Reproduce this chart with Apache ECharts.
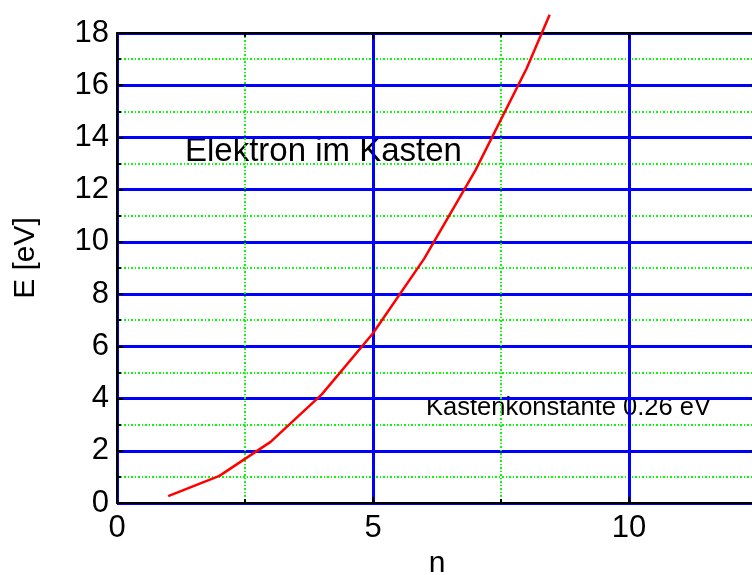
<!DOCTYPE html>
<html>
<head>
<meta charset="utf-8">
<script src="https://cdn.jsdelivr.net/npm/echarts@6/dist/echarts.min.js"></script>
<style>
  html, body { margin: 0; padding: 0; background: #fff; }
  #chart { width: 752px; height: 575px; }
</style>
</head>
<body>
<div id="chart"></div>
<script>
// values
const nValues = [1, 2, 3, 4, 5, 6, 7, 8, 8.45];
const energies = [0.26, 1.04, 2.34, 4.16, 6.5, 9.36, 12.74, 16.64, 18.7];
const xTicks = [0, 5, 10];
const yTicks = [0, 2, 4, 6, 8, 10, 12, 14, 16, 18];

const chart = echarts.init(document.getElementById('chart'));
const font = 'Liberation Sans, Arial, sans-serif';

const minorGrid = {
  show: true,
  lineStyle: { color: '#00ff00', width: 2, type: [2, 2, 1, 2] },
};
const majorGrid = {
  show: true,
  lineStyle: { color: '#0000ff', width: 3 },
};
const blackLine = { show: true, onZero: false, lineStyle: { color: '#000', width: 2 } };
const tickIn = { show: true, inside: true, length: 6, lineStyle: { color: '#000', width: 2 } };
const minorIn = { show: true, splitNumber: 2, length: 4, lineStyle: { color: '#000', width: 2 } };

chart.setOption({
  animation: false,
  grid: { left: 117, top: 33, width: 640, height: 470, containLabel: false, outerBoundsMode: 'none' },
  xAxis: [
    {
      type: 'value',
      min: 0,
      max: 12.5,
      interval: 5,
      name: 'n',
      nameLocation: 'middle',
      nameGap: 42,
      nameTextStyle: { fontSize: 30, color: '#000', fontFamily: font },
      axisLine: blackLine,
      axisTick: tickIn,
      minorTick: minorIn,
      splitLine: majorGrid,
      minorSplitLine: minorGrid,
      axisLabel: {
        fontSize: 31,
        color: '#000',
        fontFamily: font,
        margin: 10,
        formatter: v => (xTicks.includes(v) ? String(v) : ''),
      },
    },
    {
      type: 'value',
      position: 'top',
      min: 0,
      max: 12.5,
      interval: 5,
      axisLine: blackLine,
      axisTick: tickIn,
      minorTick: minorIn,
      splitLine: { show: false },
      axisLabel: { show: false },
    },
  ],
  yAxis: [
    {
      type: 'value',
      min: 0,
      max: 18,
      interval: 2,
      name: 'E [eV]',
      nameLocation: 'middle',
      nameGap: 76,
      nameRotate: 90,
      nameTextStyle: { fontSize: 30, color: '#000', fontFamily: font, padding: [0, 0, 0, 20] },
      axisLine: blackLine,
      axisTick: tickIn,
      minorTick: minorIn,
      splitLine: majorGrid,
      minorSplitLine: minorGrid,
      axisLabel: {
        fontSize: 31,
        color: '#000',
        fontFamily: font,
        margin: 8,
        formatter: v => (yTicks.includes(v) ? String(v) : ''),
      },
    },
    {
      type: 'value',
      position: 'right',
      min: 0,
      max: 18,
      interval: 2,
      axisLine: blackLine,
      axisTick: tickIn,
      minorTick: minorIn,
      splitLine: { show: false },
      axisLabel: { show: false },
    },
  ],
  graphic: [
    {
      type: 'text',
      left: 185,
      top: 135,
      style: {
        text: 'Elektron im Kasten',
        fontSize: 33,
        fontFamily: font,
        fill: '#000',
      },
    },
    {
      type: 'text',
      left: 426,
      top: 395,
      style: {
        text: 'Kastenkonstante 0.26 eV',
        fontSize: 25.5,
        fontFamily: font,
        fill: '#000',
      },
    },
  ],
  series: [
    {
      type: 'line',
      data: nValues.map((n, i) => [n, energies[i]]),
      showSymbol: false,
      clip: false,
      lineStyle: { color: '#ff0000', width: 2.5 },
    },
  ],
});
</script>
</body>
</html>
